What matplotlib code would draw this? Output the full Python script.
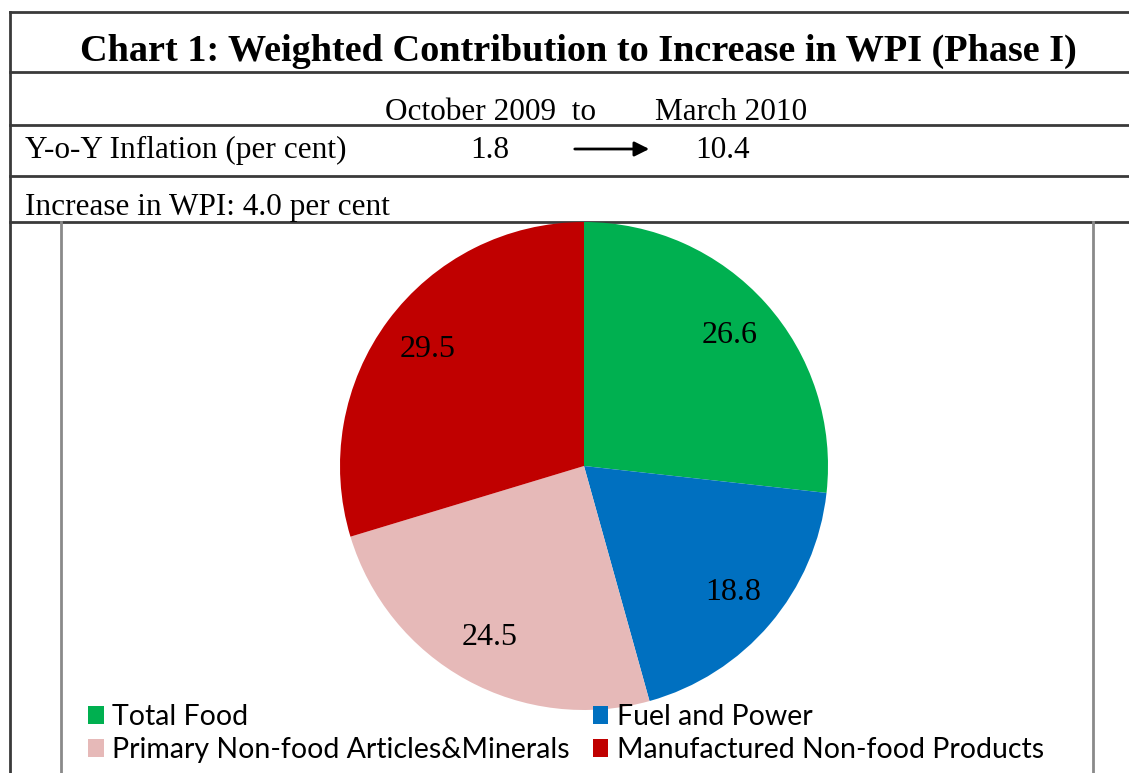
import matplotlib

matplotlib.use("Agg")
import matplotlib.pyplot as plt
from matplotlib.lines import Line2D

W, H = 1129, 773

categories = ["Total Food", "Fuel and Power", "Primary Non-food Articles&Minerals",
              "Manufactured Non-food Products"]
shares = [26.6, 18.8, 24.5, 29.5]
colors = ["#00B050", "#0070C0", "#E6B9B8", "#C00000"]

title = "Chart 1: Weighted Contribution to Increase in WPI (Phase I)"
period_from, period_to = "October 2009", "March 2010"
infl_from, infl_to = 1.8, 10.4
wpi_increase = 4.0

SERIF = "Liberation Serif"
FS = 22.5
fig = plt.figure(figsize=(W / 100, H / 100), dpi=100)

# ---- frame / table layer in pixel coordinates ----
bg = fig.add_axes([0, 0, 1, 1])
bg.set_xlim(0, W)
bg.set_ylim(H, 0)
bg.axis("off")

line_c = "#3a3a3a"
for y in [12, 72, 125, 176, 222]:
    bg.add_line(Line2D([10, W], [y, y], color=line_c, lw=2))
bg.add_line(Line2D([10, 10], [12, H], color=line_c, lw=2))
# inner chart box
bg.add_line(Line2D([61, 61], [222, H], color="#8a8a8a", lw=2))
bg.add_line(Line2D([1093, 1093], [222, H], color="#8a8a8a", lw=2))

bg.text(578, 51, title, ha="center", va="center", fontsize=27.5, fontweight="bold", family=SERIF)
bg.text(385, 112, f"{period_from}  to", ha="left", va="center", fontsize=FS, family=SERIF)
bg.text(655, 112, period_to, ha="left", va="center", fontsize=FS, family=SERIF)
bg.text(25, 150, "Y-o-Y Inflation (per cent)", ha="left", va="center", fontsize=FS, family=SERIF)
bg.text(470, 150, f"{infl_from:.1f}", ha="left", va="center", fontsize=FS, family=SERIF)
bg.text(695, 150, f"{infl_to:.1f}", ha="left", va="center", fontsize=FS, family=SERIF)
bg.annotate("", xy=(652, 149), xytext=(572, 149),
            arrowprops=dict(arrowstyle="-|>", color="black", lw=2, mutation_scale=22))
bg.text(25, 208, f"Increase in WPI: {wpi_increase:.1f} per cent", ha="left", va="center",
        fontsize=FS, family=SERIF)

# ---- pie ----
cx, cy, r = 584, 466, 244
ax = fig.add_axes([(cx - r) / W, (H - cy - r) / H, 2 * r / W, 2 * r / H])
total = sum(shares)
wedges, _, autotexts = ax.pie(
    shares,
    colors=colors,
    startangle=90,
    counterclock=False,
    autopct=lambda p: f"{p * total / 100:.1f}",
    pctdistance=0.8,
    textprops=dict(fontsize=23, family=SERIF, color="black"),
)
ax.set_xlim(-1, 1)
ax.set_ylim(-1, 1)

order = [0, 2, 1, 3]
fig.legend(
    [wedges[i] for i in order],
    [categories[i] for i in order],
    ncol=2,
    loc="lower left",
    bbox_to_anchor=(74 / W, -4 / H),
    frameon=False,
    prop=dict(family="Lato", size=20.5),
    handlelength=0.55,
    handleheight=0.6,
    handletextpad=0.3,
    columnspacing=0.8,
    labelspacing=0.25,
    borderpad=0,
)

fig.savefig("out.png", dpi=100, facecolor="white")
